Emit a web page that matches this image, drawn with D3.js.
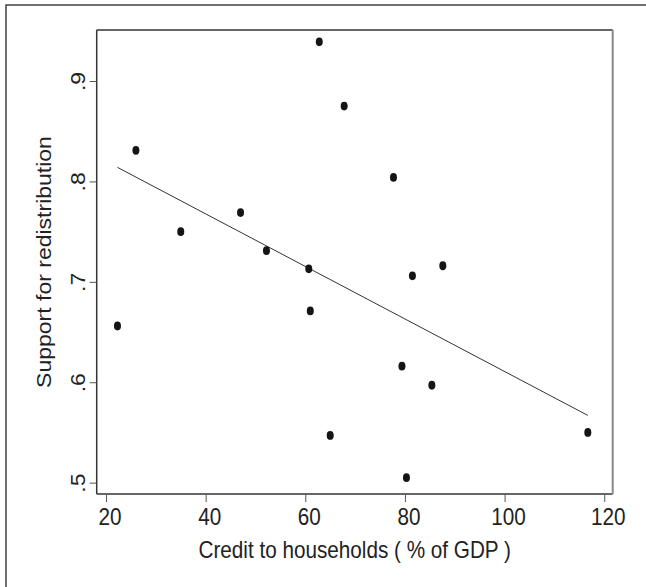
<!DOCTYPE html>
<html><head><meta charset="utf-8">
<script src="https://cdn.jsdelivr.net/npm/d3@7"></script>
<style>body{margin:0;background:#fff}svg{display:block}</style>
</head><body><svg id="c" width="646" height="587"></svg>
<script>
const credit  = [22.3, 26.0, 35.0, 47.0, 52.2, 60.7, 61.0, 62.8, 65.0, 67.8, 77.7, 79.4, 80.3, 81.5, 85.4, 87.6, 116.7];
const support = [0.656, 0.831, 0.750, 0.769, 0.731, 0.713, 0.671, 0.939, 0.547, 0.875, 0.804, 0.616, 0.505, 0.706, 0.597, 0.716, 0.550];
const fitCredit  = [22.3, 116.7];
const fitSupport = [0.814, 0.567];
const xTicks = [20, 40, 60, 80, 100, 120];
const yTicks = [0.5, 0.6, 0.7, 0.8, 0.9];
const yTickLabels = [".5", ".6", ".7", ".8", ".9"];
const xTitle = "Credit to households ( % of GDP )";
const yTitle = "Support for redistribution";

const W = 646, H = 587;
const m = {left: 96.7, right: 612.7, top: 30, bottom: 494};
const FONT = "'Liberation Sans', Arial, Helvetica, sans-serif";
const FS = 23, SX = 0.9;

const svg = d3.select("#c");
svg.append("rect").attr("width", W).attr("height", H).attr("fill", "#fff");

// outer frame
svg.append("rect").attr("x", 6).attr("y", 5).attr("width", W + 20).attr("height", H + 20)
  .attr("fill", "none").attr("stroke", "#333").attr("stroke-width", 1.4);

const x = d3.scaleLinear().domain([18.13, 121.7]).range([m.left, m.right]);
const y = d3.scaleLinear().domain([0.4887, 0.9508]).range([m.bottom, m.top]);

// plot frame
const frame = svg.append("g");
frame.append("line").attr("x1", m.left).attr("x2", m.right).attr("y1", m.top).attr("y2", m.top).attr("stroke", "#333").attr("stroke-width", 1.3);
frame.append("line").attr("x1", m.left).attr("x2", m.left).attr("y1", m.top).attr("y2", m.bottom).attr("stroke", "#333").attr("stroke-width", 1.5);
frame.append("line").attr("x1", m.left).attr("x2", m.right).attr("y1", m.bottom).attr("y2", m.bottom).attr("stroke", "#333").attr("stroke-width", 1.5);
frame.append("line").attr("x1", m.right).attr("x2", m.right).attr("y1", m.top).attr("y2", m.bottom).attr("stroke", "#888").attr("stroke-width", 2);

// x axis
const gx = svg.append("g").attr("transform", `translate(0,${m.bottom})`)
  .call(d3.axisBottom(x).tickValues(xTicks).tickSize(8).tickSizeOuter(0).tickFormat(d3.format("d")));
gx.select(".domain").remove();
gx.selectAll(".tick line").attr("stroke", "#555").attr("stroke-width", 1);
gx.selectAll(".tick text").attr("y", 0).attr("dy", 0).attr("x", 0)
  .attr("transform", `translate(3.5,31) scale(${SX},1)`)
  .attr("font-family", FONT).attr("font-size", FS).attr("fill", "#222");

// y axis
const gy = svg.append("g").attr("transform", `translate(${m.left},0)`)
  .call(d3.axisLeft(y).tickValues(yTicks).tickSize(7).tickSizeOuter(0)
    .tickFormat((d, i) => yTickLabels[i]));
gy.select(".domain").remove();
gy.selectAll(".tick line").attr("stroke", "#555").attr("stroke-width", 1);
gy.selectAll(".tick text").attr("x", 0).attr("y", 0).attr("dy", 0)
  .attr("transform", `translate(-11.7,0) scale(${SX},1) rotate(-90)`)
  .attr("text-anchor", "middle")
  .attr("font-family", FONT).attr("font-size", FS).attr("fill", "#222");

// titles
svg.append("text").attr("transform", `translate(${(m.left + m.right) / 2},558) scale(${SX},1)`)
  .attr("text-anchor", "middle").attr("font-family", FONT).attr("font-size", FS).attr("fill", "#222")
  .text(xTitle);
svg.append("text").attr("transform", `translate(51,${(m.top + m.bottom) / 2}) scale(${SX},1) rotate(-90)`)
  .attr("text-anchor", "middle").attr("font-family", FONT).attr("font-size", FS).attr("fill", "#222")
  .text(yTitle);

// fit line
const fit = fitCredit.map((c, i) => [c, fitSupport[i]]);
svg.append("path").datum(fit)
  .attr("d", d3.line().x(d => x(d[0])).y(d => y(d[1])))
  .attr("fill", "none").attr("stroke", "#333").attr("stroke-width", 1);

// points
const pts = credit.map((c, i) => ({c, s: support[i]}));
svg.append("g").selectAll("ellipse").data(pts).join("ellipse")
  .attr("cx", d => x(d.c)).attr("cy", d => y(d.s))
  .attr("rx", 3.5).attr("ry", 4.4).attr("fill", "#151515");
</script>
</body></html>
